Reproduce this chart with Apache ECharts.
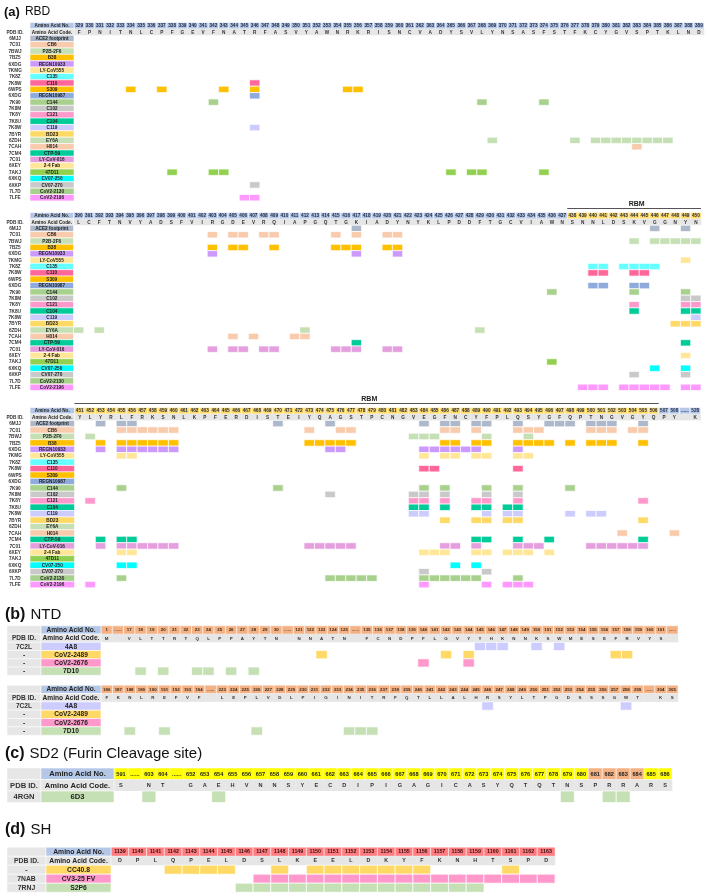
<!DOCTYPE html>
<html><head><meta charset="utf-8">
<script src="https://cdn.jsdelivr.net/npm/echarts/dist/echarts.min.js"></script>
<style>html,body{margin:0;padding:0;background:#fff}#c{width:709px;height:896px}</style>
</head><body><div id="c"></div>
<script>
// ---------------- DATA ----------------
// RBD antibodies (rows)
const rbdPdb = ['6MJJ','7C01','7BWJ','7BZ5','6XDG','7KMG','7K8Z','7K8W','6WPS','6XDG','7K90','7K8M','7K8Y','7K8U','7K8W','7BYR','6ZDH','7CAH','7CM4','7C01','6XEY','7AKJ','6XKQ','6XKP','7L7D','7LFE'];
const rbdNames = ['ACE2 footprint','CB6','P2B-2F6','B38','REGN10933','LY-CoV555','C135','C110','S309','REGN10987','C144','C102','C121','C104','C119','BD23','EY6A','H014','CTP-59','LY-CoV-016','2-4 Fab','47D11','CV07-250','CV07-270','CoV2-2130','CoV2-2196'];
const rbdColors = ['#adb9ca','#f8cbad','#c5e0b4','#ffc000','#cc99ff','#ffe699','#66ffff','#ff6699','#ffc000','#8faadc','#a9d18e','#c9c9c9','#ff99cc','#00cc99','#ccccff','#ffd966','#c5e0b4','#f8cbad','#00cc99','#e59ede','#ffe699','#92d050','#00ffff','#c9c9c9','#a9d18e','#ff99ff'];

const rbd1Res = [329,330,331,332,333,334,335,336,337,338,339,340,341,342,343,344,345,346,347,348,349,350,351,352,353,354,355,356,357,358,359,360,361,362,363,364,365,366,367,368,369,370,371,372,373,374,375,376,377,378,379,380,381,382,383,384,385,386,387,388,389];
const rbd1Codes = 'FPNITNLCPFGEVFNATRFASVYAWNRKRISNCVADYSVLYNSASFSTFKCYGVSPTKLND'.split('');
const rbd2Res = [390,391,392,393,394,395,396,397,398,399,400,401,402,403,404,405,406,407,408,409,410,411,412,413,414,415,416,417,418,419,420,421,422,423,424,425,426,427,428,429,430,431,432,433,434,435,436,437,438,439,440,441,442,443,444,445,446,447,448,449,450];
const rbd2Codes = 'LCFTNVYADSFVIRGDEVRQIAPGQTGKIADYNYKLPDDFTGCVIAWNSNNLDSKVGGNYN'.split('');
const rbd3Res = [451,452,453,454,455,456,457,458,459,460,461,462,463,464,465,466,467,468,469,470,471,472,473,474,475,476,477,478,479,480,481,482,483,484,485,486,487,488,489,490,491,492,493,494,495,496,497,498,499,500,501,502,503,504,505,506,507,508,'......',528];
const rbd3Codes = 'YLYRLFRKSNLKPFERDISTEIYQAGSTPCNGVEGFNCYFPLQSYGFQPTNGVGYQPY'.split('').concat(['','K']);
const rbmRange = [438, 506];

const rbd1Marks = [[],[],[],[],[],[],[],[346],[334,337,343,346,355,356],[346],[342,368,374],[],[],[],[346],[],
  [369,377,379,380,381,382,383,384,385,386],[383],[],[],[],[338,342,343,365,367,368,374],[],[346],[],[345,346]];
const rbd2Marks = [[417,446,449],[403,405,406,408,409,415,417,420,421],[444,446,447,448,449,450],
  [403,405,406,409,415,416,417,420,421],[403,417,421],[449],[440,441,443,444,445,446],[440,441,444,445],[],
  [440,441,444,445],[436,444,449],[449,450],[444,449,450],[444,449,450],[450],[448,449,450],[390,392,412,429],
  [405,407,411,412],[417,449],[403,405,406,408,409,415,416,417,420,421],[449],[436],[446,449],[444,449],[],
  [439,440,441,443,444,445,446,447,449,450]];
const rbd3Marks = [
  [453,455,456,470,475,484,486,487,489,490,493,496,497,498,500,501,502,505],
  [455,456,457,458,459,460,473,476,477,486,487,489,493,494,495,500,501,502,504,505],
  [452,483,484,485,490,494],
  [453,455,456,457,458,459,460,473,474,475,476,477,486,487,489,490,493,494,495,496,498,500,501,502,505],
  [453,455,456,457,458,459,460,475,476,484,485,486,487,488,489,493],
  [455,456,484,486,487,489,490,493,494],
  [],[484,485,493],[],[],
  [455,470,484,486,490,493,498],
  [475,483,484,486,490,493],
  [452,483,484,486,489,490,493,505],
  [483,484,486,489,490,492,493],
  [483,484,490,492,493,498,500,501],
  [486,489,490,492,493,505],
  [],[503,508],
  [453,455,456,489,490,493,496,505],
  [453,455,456,457,458,459,460,473,474,475,476,477,486,487,489,493,494,495,500,501,502,503,504,505],
  [455,456,484,485,486,489,490,492,493,494,496],
  [],[455,456,487,489],[484,490],
  [455,475,476,477,478,479,484,485,486,487,488,489,493],
  [452,484,490,492,493,494]];

// NTD
const ntdPdb = ['7C2L','-','-','-'];
const ntdNames = ['4A8','CoV2-2489','CoV2-2676','7D10'];
const ntdColors = ['#ccccff','#ffd966','#ff99cc','#c5e0b4'];
const ntd1Res = [1,'......',17,18,19,20,21,22,23,24,25,26,27,28,29,30,'......',121,122,123,124,125,'......',135,136,137,138,139,140,141,142,143,144,145,146,147,148,149,150,151,152,153,154,155,156,157,158,159,160,161,'......'];
const ntd1Codes = ['M','','V','L','T','T','R','T','Q','L','P','P','A','Y','T','N','','N','N','A','T','N','','F','C','N','D','P','F','L','G','V','Y','Y','H','K','N','N','K','S','W','M','E','S','E','F','R','V','Y','S',''];
const ntd1Marks = [[145,146,147,150,152],[123,142,144,157,158],[140,144],[18,20,23,24,26,28]];
const ntd2Res = [186,187,188,189,190,191,192,193,194,'......',223,224,225,226,227,228,229,230,231,232,233,234,235,236,237,238,239,240,241,242,243,244,245,246,247,248,249,250,251,252,253,254,255,256,257,258,259,'......',304,305];
const ntd2Codes = ['F','K','N','L','R','E','F','V','F','','L','E','P','L','V','D','L','P','I','G','I','N','I','T','R','F','Q','T','L','L','A','L','H','R','S','Y','L','T','P','G','D','S','S','S','G','W','T','','K','S'];
const ntd2Marks = [[246,258],[],[],[188,191,226,234,235,236]];

// SD2 (Furin cleavage site)
const sd2Pdb = ['4RGN'];
const sd2Names = ['6D3'];
const sd2Colors = ['#c5e0b4'];
const sd2Res = [591,'......',603,604,'......',652,653,654,655,656,657,658,659,660,661,662,663,664,665,666,667,668,669,670,671,672,673,674,675,676,677,678,679,680,681,682,683,684,685,686];
const sd2Codes = ['S','','N','T','','G','A','E','H','V','N','N','S','Y','E','C','D','I','P','I','G','A','G','I','C','A','S','Y','Q','T','Q','T','N','S','P','R','R','A','R','S'];
const sd2Marks = [[603,654,679,682,683]];
const furinRange = [681, 684];

// SH
const shPdb = ['-','7NAB','7RNJ'];
const shNames = ['CC40.8','CV3-25 FV','S2P6'];
const shColors = ['#ffd966','#ff99cc','#c5e0b4'];
const shRes = [1139,1140,1141,1142,1143,1144,1145,1146,1147,1148,1149,1150,1151,1152,1153,1154,1155,1156,1157,1158,1159,1160,1161,1162,1163];
const shCodes = 'DPLQPELDSLKEELDKYFKNHTSPD'.split('');
const shMarks = [[1142,1143,1144,1145,1148,1150,1151,1152,1153,1154,1155,1156,1161],
  [1147,1148,1149,1150,1151,1152,1153,1154,1155,1156,1157,1158,1159,1160,1161,1162,1163],
  [1146,1147,1148,1149,1150,1151,1152,1153,1154,1155,1156,1157,1158,1159]];

// ---------------- RENDERING ----------------
const FF = '"Liberation Sans", Arial, sans-serif';
const BLUE = '#b4c7e7', GRAY = '#e7e6e6';

const blocks = [
  {res:rbd1Res, codes:rbd1Codes, pdb:rbdPdb, names:rbdNames, colors:rbdColors, marks:rbd1Marks,
   grid:{left:74, top:22.5, width:630, height:178.4},
   numFill:r => (typeof r==='number' && r>=rbmRange[0] && r<=rbmRange[1]) ? '#ffd966' : BLUE,
   st:{pdbW:30, nameW:44, fs:4.7, lfs:4.7, pdbFill:null, numColor:'#1f2a44'}},
  {res:rbd2Res, codes:rbd2Codes, pdb:rbdPdb, names:rbdNames, colors:rbdColors, marks:rbd2Marks, rbm:true,
   grid:{left:73.5, top:212.5, width:627.5, height:178},
   numFill:r => (typeof r==='number' && r>=rbmRange[0] && r<=rbmRange[1]) ? '#ffd966' : BLUE,
   st:{pdbW:30, nameW:43.5, fs:4.7, lfs:4.7, pdbFill:null, numColor:'#1f2a44'}},
  {res:rbd3Res, codes:rbd3Codes, pdb:rbdPdb, names:rbdNames, colors:rbdColors, marks:rbd3Marks, rbm:true,
   grid:{left:74.5, top:407.5, width:626, height:180.3},
   numFill:r => (typeof r==='number' && r>=rbmRange[0] && r<=rbmRange[1]) ? '#ffd966' : BLUE,
   st:{pdbW:30, nameW:44.5, fs:4.7, lfs:4.7, pdbFill:null, numColor:'#1f2a44'}},
  {res:ntd1Res, codes:ntd1Codes, pdb:ntdPdb, names:ntdNames, colors:ntdColors, marks:ntd1Marks,
   grid:{left:101, top:625.8, width:577, height:49.5},
   numFill:r => '#f4b183',
   st:{pdbW:34, nameW:60, fs:4.4, lfs:6.6, pdbFill:GRAY, numColor:'#3a2a1a'}},
  {res:ntd2Res, codes:ntd2Codes, pdb:ntdPdb, names:ntdNames, colors:ntdColors, marks:ntd2Marks,
   grid:{left:101, top:685.2, width:577, height:50},
   numFill:r => '#f4b183',
   st:{pdbW:34, nameW:60, fs:4.4, lfs:6.6, pdbFill:GRAY, numColor:'#3a2a1a'}},
  {res:sd2Res, codes:sd2Codes, pdb:sd2Pdb, names:sd2Names, colors:sd2Colors, marks:sd2Marks,
   grid:{left:114, top:768, width:558, height:34.5},
   numFill:r => (typeof r==='number' && r>=furinRange[0] && r<=furinRange[1]) ? '#f4b183' : '#ffff00',
   st:{pdbW:34, nameW:73, fs:5.6, lfs:7.6, pdbFill:GRAY, numColor:'#222'}},
  {res:shRes, codes:shCodes, pdb:shPdb, names:shNames, colors:shColors, marks:shMarks,
   grid:{left:111, top:847.2, width:444, height:45},
   numFill:r => '#ff7c80',
   st:{pdbW:39, nameW:65, fs:5.3, lfs:6.8, pdbFill:GRAY, numColor:'#3a1010'}}
];

function txt(x, y, t, size, color, bold, align) {
  return {type:'text', silent:true, style:{text:t, x:x, y:y, align:align||'center', verticalAlign:'middle',
    fontSize:size, fontWeight:bold?'bold':'normal', fontFamily:FF, fill:color||'#222'}};
}
function rect(x, y, w, h, fill, stroke, lw) {
  return {type:'rect', silent:true, shape:{x:x, y:y, width:w, height:h},
    style:{fill:fill, stroke:stroke||null, lineWidth:lw||0}};
}

function makeSeries(b, gi) {
  const items = [];
  b.res.forEach((r, i) => {
    items.push({k:'num', c:i, r:0, t:String(r), fill:b.numFill(r)});
    items.push({k:'code', c:i, r:1, t:b.codes[i]});
  });
  b.marks.forEach((list, j) => list.forEach(v => {
    const c = b.res.indexOf(v);
    if (c >= 0) items.push({k:'mark', c:c, r:j+2, fill:b.colors[j]});
  }));
  const nRows = b.names.length + 2;
  for (let j = 0; j < nRows; j++) items.push({k:'label', c:0, r:j});
  if (b.rbm) {
    let s = -1, e = -1;
    b.res.forEach((r, i) => { if (typeof r==='number' && r>=rbmRange[0] && r<=rbmRange[1]) { if (s<0) s=i; e=i; } });
    items.push({k:'rbm', c:s, c2:e, r:0});
  }
  const st = b.st;
  return {
    type:'custom', xAxisIndex:gi, yAxisIndex:gi, clip:false, silent:true,
    data: items.map(it => [it.c, it.r]),
    renderItem: function (params, api) {
      const it = items[params.dataIndex];
      const p = api.coord([api.value(0), api.value(1)]);
      const sz = api.size([1, 1]);
      const w = sz[0], h = sz[1];
      const x0 = p[0] - w/2, y0 = p[1] - h/2;
      if (it.k === 'num') {
        return {type:'group', children:[rect(x0, y0, w, h, it.fill, '#ffffff', 0.5),
          txt(p[0], p[1]+0.3, it.t, st.fs, st.numColor, true)]};
      }
      if (it.k === 'code') {
        return {type:'group', children:[rect(x0, y0, w+0.3, h, GRAY),
          txt(p[0], p[1]+0.3, it.t, st.fs, '#333', true)]};
      }
      if (it.k === 'mark') {
        return rect(x0, y0, w, h, it.fill, '#ffffff', 0.7);
      }
      if (it.k === 'label') {
        const cs = params.coordSys;
        const nx = cs.x - st.nameW, px = nx - st.pdbW;
        const j = it.r;
        const ch = [];
        if (st.pdbFill) ch.push(rect(px, y0, st.pdbW, h, st.pdbFill, '#ffffff', 0.5));
        let pdbText = '', nameText = '', nameFill = null;
        if (j === 0) { nameText = 'Amino Acid No.'; nameFill = BLUE; }
        else if (j === 1) { pdbText = 'PDB ID.'; nameText = 'Amino Acid Code.'; nameFill = GRAY; }
        else { pdbText = b.pdb[j-2]; nameText = b.names[j-2]; nameFill = b.colors[j-2]; }
        ch.push(rect(nx, y0, st.nameW, h, nameFill, '#ffffff', 0.6));
        if (pdbText) ch.push(txt(px + st.pdbW/2, p[1]+0.3, pdbText, st.lfs, '#333', true));
        ch.push(txt(nx + st.nameW/2, p[1]+0.3, nameText, st.lfs, '#222', true));
        return {type:'group', children:ch};
      }
      if (it.k === 'rbm') {
        const q = api.coord([it.c2, 0]);
        const ly = y0 - 4;
        return {type:'group', children:[
          {type:'line', silent:true, shape:{x1:x0, y1:ly, x2:q[0]+w/2, y2:ly}, style:{stroke:'#555', lineWidth:1}},
          txt((x0 + q[0] + w)/2, ly - 4.5, 'RBM', 7, '#222', true)]};
      }
      return null;
    }
  };
}

const grids = [], xAxes = [], yAxes = [], series = [];
blocks.forEach((b, i) => {
  grids.push(Object.assign({containLabel:false}, b.grid));
  xAxes.push({type:'value', gridIndex:i, min:-0.5, max:b.res.length-0.5, show:false});
  yAxes.push({type:'value', gridIndex:i, min:-0.5, max:b.names.length+1.5, inverse:true, show:false});
  series.push(makeSeries(b, i));
});

function ttl(a, rest, left, top, size) {
  return {text:'{b|' + a + '} {n|' + rest + '}', left:left, top:top, padding:0,
    textStyle:{rich:{b:{fontWeight:'bold', fontSize:size+1, fontFamily:FF, color:'#111'},
                     n:{fontWeight:'normal', fontSize:size, fontFamily:FF, color:'#111'}}}};
}

const chart = echarts.init(document.getElementById('c'), null, {renderer:'canvas'});
chart.setOption({
  animation:false,
  backgroundColor:'#ffffff',
  title:[ttl('(a)', 'RBD', 4, 3, 12), ttl('(b)', 'NTD', 5, 606, 15),
         ttl('(c)', 'SD2 (Furin Cleavage site)', 5, 745, 15), ttl('(d)', 'SH', 5, 821, 15)],
  grid:grids, xAxis:xAxes, yAxis:yAxes, series:series
});
</script></body></html>
